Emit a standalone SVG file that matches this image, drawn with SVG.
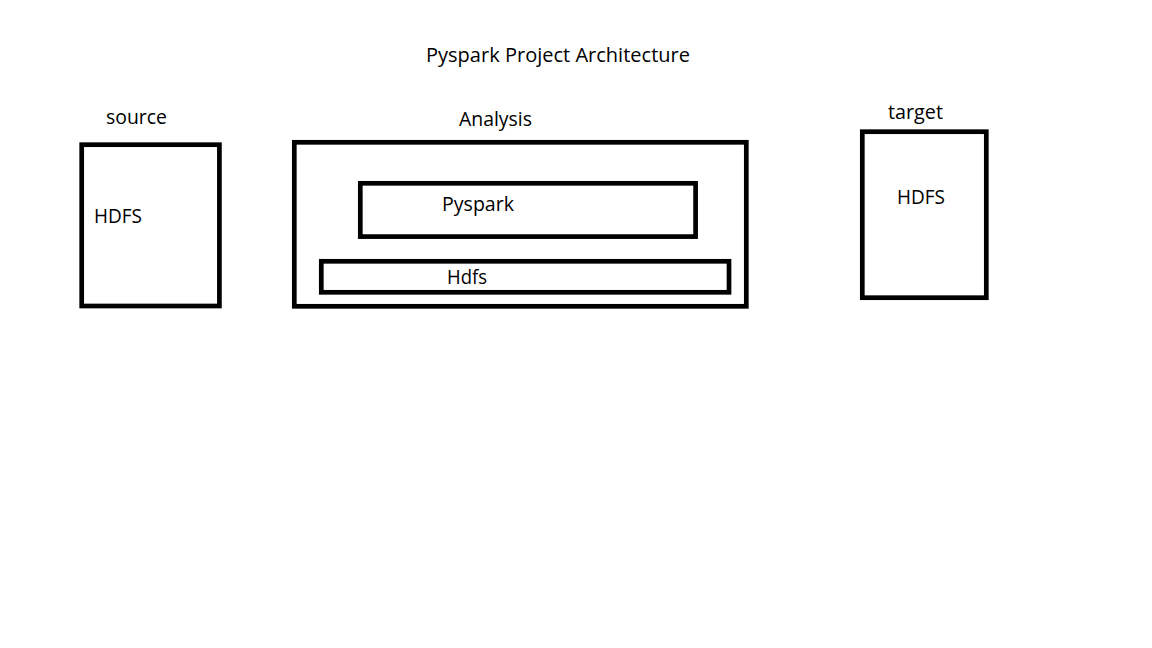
<svg xmlns="http://www.w3.org/2000/svg" width="1152" height="648" viewBox="0 0 1152 648">
<style>
.box{fill:none;stroke:#000;stroke-width:4.7}
text{font-family:"Open Sans","Liberation Sans",sans-serif;font-size:20px;fill:#000}
</style>
<rect width="1152" height="648" fill="#fff"/>
<text x="426" y="62" textLength="264" lengthAdjust="spacingAndGlyphs">Pyspark Project Architecture</text>
<g id="source">
<text x="106" y="124" textLength="61" lengthAdjust="spacingAndGlyphs">source</text>
<rect class="box" x="81.7" y="144.7" width="137.7" height="161.3"/>
<text x="94" y="223" textLength="48" lengthAdjust="spacingAndGlyphs">HDFS</text>
</g>
<g id="analysis">
<text x="459" y="126" textLength="73" lengthAdjust="spacingAndGlyphs">Analysis</text>
<rect class="box" x="294.3" y="142.3" width="452" height="164"/>
</g>
<g id="pyspark">
<rect class="box" x="360.3" y="183.3" width="335.3" height="53.3"/>
<text x="442" y="210.5" textLength="72" lengthAdjust="spacingAndGlyphs">Pyspark</text>
</g>
<g id="hdfs">
<rect class="box" x="321.3" y="261.3" width="407.7" height="31"/>
<text x="447" y="284" textLength="40" lengthAdjust="spacingAndGlyphs">Hdfs</text>
</g>
<g id="target">
<text x="888" y="119" textLength="55" lengthAdjust="spacingAndGlyphs">target</text>
<rect class="box" x="862.3" y="131.7" width="124" height="166"/>
<text x="897" y="204" textLength="48" lengthAdjust="spacingAndGlyphs">HDFS</text>
</g>
<g id="connectors"></g>
</svg>
